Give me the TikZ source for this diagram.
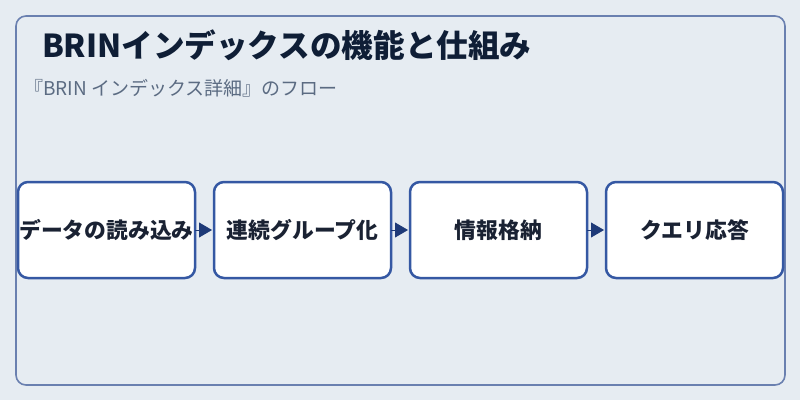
\documentclass[tikz,border=0pt]{standalone}
\usepackage{fontspec}
\setmainfont{Noto Sans CJK JP}
\usepackage{tikz}
\usetikzlibrary{arrows.meta, positioning}

\definecolor{bgcol}{HTML}{E6ECF2}
\definecolor{framecol}{HTML}{6A80B0}
\definecolor{boxline}{HTML}{3558A3}
\definecolor{tipcol}{HTML}{1E3A78}
\definecolor{titlecol}{HTML}{0F1E36}
\definecolor{subcol}{HTML}{5B6B82}
\definecolor{textcol}{HTML}{1A2233}

\begin{document}
\begin{tikzpicture}[x=1pt, y=1pt, node distance=19pt, outer sep=0pt]

\tikzstyle{stepbox}=[rectangle, rounded corners=10pt, draw=boxline, line width=2.5pt, fill=white,
  minimum width=177pt, minimum height=96pt, inner sep=0pt, text=textcol,
  font=\fontsize{21.8}{26}\selectfont\bfseries]
\tikzstyle{flow}=[-{Triangle[length=13pt, width=15pt]}, tipcol, line width=0.8pt, shorten >=2pt]

\fill[bgcol] (0,0) rectangle (800,400);
\useasboundingbox (0,0) rectangle (800,400);
\draw[framecol, line width=1.6pt, rounded corners=10pt] (16,15) rectangle (785,384);

\node[anchor=base west, text=titlecol, inner sep=0pt, font=\fontsize{31.6}{36}\selectfont\bfseries] (title) at (42,343) {BRINインデックスの機能と仕組み};
\node[anchor=base west, text=subcol, inner sep=0pt, font=\fontsize{19}{22}\selectfont] (subtitle) at (24,305) {『BRIN インデックス詳細』のフロー};

\node[stepbox] (load) at (106.5,170) {データの読み込み};
\node[stepbox] (group) [right = of load] {連続グループ化};
\node[stepbox] (store) [right = of group] {情報格納};
\node[stepbox] (query) [right = of store] {クエリ応答};

\draw[flow] (load) -- (group);
\draw[flow] (group) -- (store);
\draw[flow] (store) -- (query);
\end{tikzpicture}
\end{document}
